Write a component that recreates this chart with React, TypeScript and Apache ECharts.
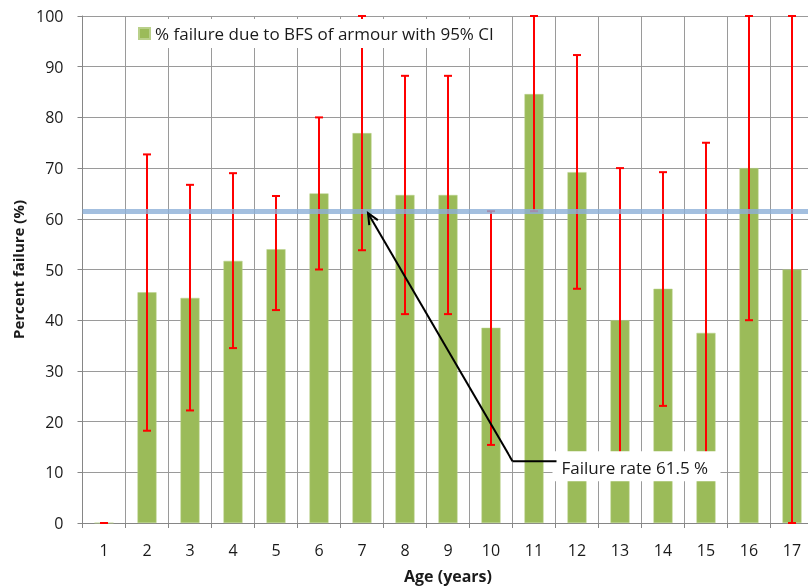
import React, { useEffect, useRef } from "react";
import * as echarts from "echarts";

const ages = ["1", "2", "3", "4", "5", "6", "7", "8", "9", "10", "11", "12", "13", "14", "15", "16", "17"];
const failurePct = [0, 45.5, 44.4, 51.7, 54.0, 65.0, 76.9, 64.7, 64.7, 38.5, 84.6, 69.2, 40.0, 46.2, 37.5, 70.0, 50.0];
const ciLower = [0, 18.2, 22.2, 34.5, 42.0, 50.0, 53.8, 41.2, 41.2, 15.4, 61.5, 46.2, 12.0, 23.1, 11.0, 40.0, 0];
const ciUpper = [0, 72.7, 66.7, 69.0, 64.5, 80.0, 100, 88.2, 88.2, 61.5, 100, 92.3, 70.0, 69.2, 75.0, 100, 100];
const overallRate = 61.5;
const annotationText = "Failure rate 61.5 %";
const legendName = "% failure due to BFS of armour with 95% CI";

const FONT = "'Open Sans', 'Noto Sans', sans-serif";
const TXT = "#1a1a1a";
const GRID = "#9a9a9a";

export default function App() {
  const ref = useRef<HTMLDivElement>(null);
  useEffect(() => {
    if (!ref.current) return;
    const chart = echarts.init(ref.current, null, { renderer: "svg" });
    const errData = ages.map((_, i) => [i, ciLower[i], ciUpper[i]]);
    chart.setOption({
      animation: false,
      textStyle: { fontFamily: FONT },
      grid: {
        left: 82.5,
        top: 16,
        width: 731,
        height: 507,
        containLabel: false,
        outerBoundsMode: "none",
      },
      legend: {
        left: 128,
        top: 19,
        data: [legendName],
        icon: "rect",
        itemWidth: 11,
        itemHeight: 11,
        itemGap: 5,
        backgroundColor: "#fff",
        padding: [6, 10, 6, 10],
        textStyle: { fontFamily: FONT, fontSize: 17, color: TXT },
      },
      xAxis: {
        type: "category",
        data: ages,
        name: "Age (years)",
        nameLocation: "middle",
        nameGap: 45,
        nameTextStyle: { fontFamily: FONT, fontSize: 16, fontWeight: "bold", color: TXT },
        axisLine: { show: true, lineStyle: { color: "#868686", width: 1 } },
        axisTick: { show: true, length: 5, interval: 0, lineStyle: { color: "#868686" } },
        axisLabel: { fontFamily: FONT, fontSize: 16, color: TXT, margin: 19, interval: 0 },
        splitLine: { show: true, interval: 0, lineStyle: { color: GRID, width: 1 } },
      },
      yAxis: {
        type: "value",
        min: 0,
        max: 100,
        interval: 10,
        name: "Percent failure (%)",
        nameLocation: "middle",
        nameGap: 53,
        nameRotate: 90,
        nameTextStyle: { fontFamily: FONT, fontSize: 15, fontWeight: "bold", color: TXT },
        axisLine: { show: true, lineStyle: { color: "#868686", width: 1 } },
        axisTick: { show: true, length: 5, lineStyle: { color: "#868686" } },
        axisLabel: { fontFamily: FONT, fontSize: 16, color: TXT, margin: 19 },
        splitLine: { show: true, lineStyle: { color: GRID, width: 1 } },
      },
      series: [
        {
          name: legendName,
          type: "bar",
          data: failurePct,
          barWidth: 19,
          itemStyle: { color: "#9BBB59", borderColor: "#b9d08a", borderWidth: 0.5 },
          z: 2,
        },
        {
          name: "ci",
          type: "custom",
          z: 3,
          data: errData,
          renderItem: (params: any, api: any) => {
            const idx = api.value(0);
            const lo = api.coord([idx, api.value(1)]);
            const hi = api.coord([idx, api.value(2)]);
            const x = lo[0];
            const cap = 4;
            const style = { stroke: "#FF0000", lineWidth: 2 };
            return {
              type: "group",
              children: [
                { type: "line", shape: { x1: x, y1: lo[1], x2: x, y2: hi[1] }, style },
                { type: "line", shape: { x1: x - cap, y1: lo[1], x2: x + cap, y2: lo[1] }, style },
                { type: "line", shape: { x1: x - cap, y1: hi[1], x2: x + cap, y2: hi[1] }, style },
              ],
            };
          },
          markLine: {
            silent: true,
            symbol: ["none", "none"],
            label: { show: false },
            lineStyle: { color: "rgba(140,175,215,0.8)", width: 5, type: "solid" },
            data: [{ yAxis: overallRate }],
          },
        },
      ],
    });

    // annotation arrow computed from axis scales
    const c6 = chart.convertToPixel({ xAxisIndex: 0 }, 6) as number;
    const c7 = chart.convertToPixel({ xAxisIndex: 0 }, 7) as number;
    const c9 = chart.convertToPixel({ xAxisIndex: 0 }, 9) as number;
    const c10 = chart.convertToPixel({ xAxisIndex: 0 }, 10) as number;
    const step = c7 - c6;
    const tipX = c6 + step * 0.14;
    const tipY = (chart.convertToPixel({ yAxisIndex: 0 }, overallRate) as number) + 2;
    const startX = (c9 + c10) / 2;
    const startY = chart.convertToPixel({ yAxisIndex: 0 }, 12.2) as number;
    const lineEndX = startX + 44;
    const dx = tipX - startX;
    const dy = tipY - startY;
    const len = Math.sqrt(dx * dx + dy * dy);
    const ux = dx / len;
    const uy = dy / len;
    const ah = 11;
    const aw = 5;
    const bx = tipX - ux * ah;
    const by = tipY - uy * ah;
    const px = -uy;
    const py = ux;
    chart.setOption({
      graphic: [
        {
          type: "line",
          z: 100,
          shape: { x1: startX, y1: startY, x2: tipX, y2: tipY },
          style: { stroke: "#000", lineWidth: 2 },
        },
        {
          type: "polyline",
          z: 100,
          shape: { points: [[bx + px * aw, by + py * aw], [tipX, tipY], [bx - px * aw, by - py * aw]] },
          style: { stroke: "#000", lineWidth: 2, fill: null },
        },
        {
          type: "line",
          z: 100,
          shape: { x1: startX, y1: startY, x2: lineEndX, y2: startY },
          style: { stroke: "#000", lineWidth: 2 },
        },
        {
          type: "rect",
          z: 99,
          shape: { x: lineEndX - 4, y: startY - 10, width: 168, height: 30 },
          style: { fill: "#fff" },
        },
        {
          type: "text",
          z: 101,
          x: lineEndX + 5,
          y: startY + 6,
          style: {
            text: annotationText,
            font: `17px ${FONT}`,
            fill: TXT,
            verticalAlign: "middle",
          },
        },
      ],
    });
    return () => chart.dispose();
  }, []);
  return <div ref={ref} style={{ position: "fixed", left: 0, top: 0, width: 808, height: 587 }} />;
}
